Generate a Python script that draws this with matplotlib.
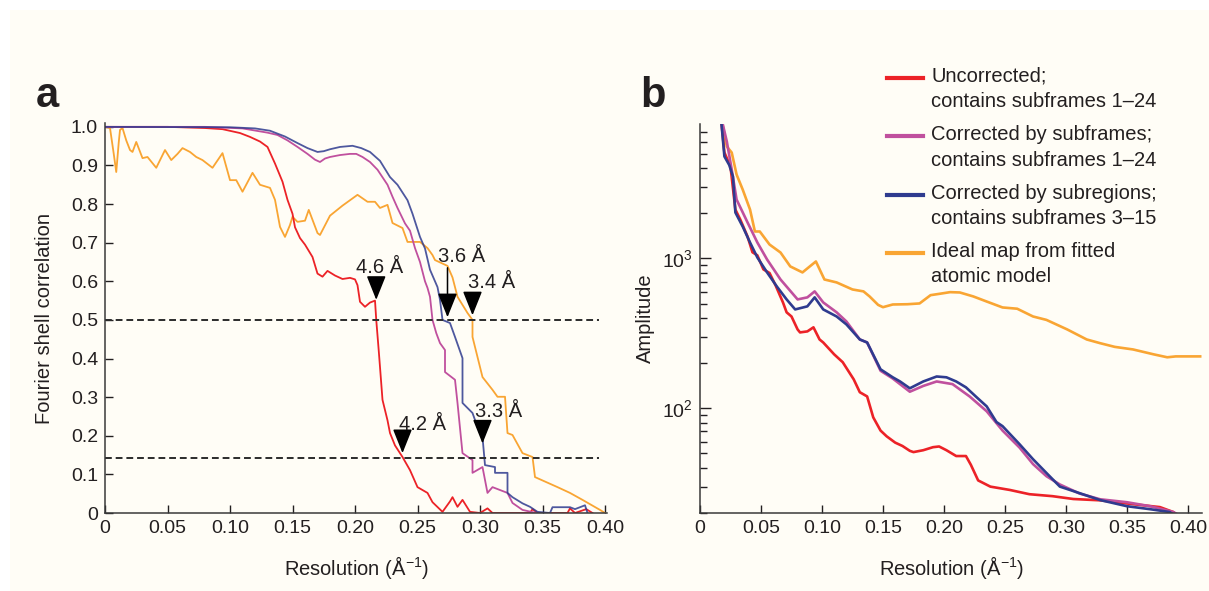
import matplotlib
matplotlib.use('Agg')
import matplotlib.pyplot as plt
from matplotlib.lines import Line2D
from matplotlib.patches import Rectangle

# ---- panel a: Fourier shell correlation ----
red_a_x = [0.000, 0.050, 0.080, 0.094, 0.108, 0.116, 0.124, 0.130, 0.136, 0.142, 0.146, 0.150,
           0.152, 0.156, 0.160, 0.166, 0.170, 0.174, 0.178, 0.184, 0.190, 0.196, 0.200, 0.202,
           0.204, 0.208, 0.212, 0.216, 0.217, 0.219, 0.220, 0.222, 0.226, 0.228, 0.232, 0.238,
           0.244, 0.250, 0.258, 0.262, 0.270, 0.276, 0.278, 0.282, 0.286, 0.292, 0.300, 0.306,
           0.310, 0.340, 0.342, 0.346, 0.370, 0.372, 0.376, 0.385, 0.390]
red_a_y = [1.000, 1.000, 0.997, 0.994, 0.984, 0.974, 0.962, 0.948, 0.905, 0.858, 0.811, 0.775,
           0.740, 0.712, 0.695, 0.663, 0.620, 0.612, 0.627, 0.615, 0.606, 0.609, 0.605, 0.590,
           0.547, 0.534, 0.545, 0.550, 0.500, 0.420, 0.378, 0.293, 0.240, 0.207, 0.175, 0.145,
           0.111, 0.067, 0.052, 0.028, 0.003, 0.030, 0.041, 0.016, 0.034, 0.003, 0.000, 0.012,
           0.000, 0.000, 0.010, 0.000, 0.000, 0.012, 0.000, 0.010, 0.000]

mag_a_x = [0.000, 0.080, 0.110, 0.130, 0.138, 0.146, 0.154, 0.162, 0.168, 0.172, 0.176, 0.180,
           0.188, 0.196, 0.201, 0.206, 0.212, 0.218, 0.226, 0.230, 0.234, 0.240, 0.244, 0.248,
           0.252, 0.256, 0.258, 0.260, 0.262, 0.265, 0.268, 0.272, 0.272, 0.280, 0.282, 0.284,
           0.286, 0.294, 0.294, 0.302, 0.306, 0.310, 0.322, 0.326, 0.334, 0.345]
mag_a_y = [1.000, 1.000, 0.996, 0.985, 0.979, 0.965, 0.948, 0.930, 0.915, 0.909, 0.918, 0.922,
           0.927, 0.930, 0.930, 0.922, 0.909, 0.889, 0.850, 0.819, 0.790, 0.750, 0.731, 0.686,
           0.650, 0.600, 0.583, 0.560, 0.500, 0.466, 0.440, 0.422, 0.365, 0.345, 0.285, 0.220,
           0.155, 0.137, 0.104, 0.119, 0.052, 0.067, 0.052, 0.026, 0.008, 0.000]

blue_a_x = [0.000, 0.100, 0.120, 0.132, 0.144, 0.154, 0.162, 0.170, 0.175, 0.180, 0.188, 0.198,
            0.205, 0.212, 0.220, 0.228, 0.234, 0.242, 0.246, 0.252, 0.256, 0.260, 0.266, 0.268,
            0.270, 0.276, 0.280, 0.286, 0.286, 0.294, 0.298, 0.302, 0.304, 0.312, 0.312, 0.322,
            0.322, 0.326, 0.334, 0.340, 0.346, 0.356, 0.358, 0.372, 0.376, 0.384, 0.386]
blue_a_y = [1.000, 0.999, 0.996, 0.990, 0.975, 0.958, 0.945, 0.935, 0.937, 0.942, 0.948, 0.951,
            0.945, 0.935, 0.912, 0.870, 0.850, 0.810, 0.775, 0.715, 0.685, 0.630, 0.585, 0.552,
            0.500, 0.492, 0.456, 0.401, 0.285, 0.259, 0.223, 0.197, 0.124, 0.119, 0.104, 0.104,
            0.052, 0.041, 0.025, 0.016, 0.003, 0.000, 0.015, 0.015, 0.010, 0.020, 0.000]

org_a_x = [0.000, 0.004, 0.007, 0.009, 0.011, 0.012, 0.014, 0.017, 0.020, 0.022, 0.025, 0.030,
           0.034, 0.041, 0.048, 0.053, 0.058, 0.062, 0.068, 0.073, 0.078, 0.086, 0.094, 0.100,
           0.105, 0.110, 0.118, 0.124, 0.132, 0.136, 0.140, 0.144, 0.148, 0.150, 0.154, 0.160,
           0.163, 0.170, 0.172, 0.180, 0.190, 0.202, 0.210, 0.216, 0.220, 0.226, 0.230, 0.238,
           0.242, 0.252, 0.258, 0.262, 0.264, 0.274, 0.278, 0.282, 0.290, 0.294, 0.294, 0.302,
           0.310, 0.314, 0.320, 0.322, 0.326, 0.334, 0.342, 0.344, 0.362, 0.372, 0.382, 0.396,
           0.400]
org_a_y = [1.000, 0.997, 0.930, 0.883, 0.960, 0.992, 0.997, 0.965, 0.940, 0.935, 0.961, 0.919,
           0.922, 0.894, 0.940, 0.914, 0.930, 0.945, 0.935, 0.922, 0.914, 0.894, 0.932, 0.862,
           0.862, 0.832, 0.881, 0.850, 0.842, 0.811, 0.741, 0.715, 0.746, 0.767, 0.754, 0.757,
           0.785, 0.725, 0.720, 0.770, 0.796, 0.824, 0.806, 0.806, 0.790, 0.798, 0.751, 0.738,
           0.702, 0.702, 0.686, 0.668, 0.655, 0.640, 0.610, 0.560, 0.518, 0.500, 0.456, 0.352,
           0.319, 0.301, 0.301, 0.207, 0.202, 0.155, 0.145, 0.093, 0.067, 0.052, 0.034, 0.008,
           0.000]

thresholds = [0.5, 0.143]
arrow_labels = ['4.6 Å', '3.6 Å', '3.4 Å', '4.2 Å', '3.3 Å']
arrow_x = [0.217, 0.274, 0.294, 0.238, 0.302]
arrow_tip = [0.552, 0.507, 0.512, 0.155, 0.180]
arrow_tail = [0.605, 0.635, 0.565, 0.208, 0.233]
label_x = [0.220, 0.285, 0.309, 0.254, 0.315]
label_y = [0.637, 0.663, 0.596, 0.228, 0.262]

# ---- panel b: amplitude ----
red_b_x = [0.017, 0.020, 0.025, 0.029, 0.033, 0.039, 0.043, 0.047, 0.052, 0.057, 0.062, 0.068,
           0.071, 0.075, 0.080, 0.082, 0.088, 0.093, 0.098, 0.101, 0.110, 0.117, 0.126, 0.131,
           0.137, 0.142, 0.148, 0.153, 0.160, 0.166, 0.172, 0.175, 0.183, 0.191, 0.196, 0.202,
           0.210, 0.218, 0.222, 0.228, 0.238, 0.254, 0.270, 0.289, 0.306, 0.328, 0.355, 0.377,
           0.388, 0.390]
red_b_y = [9000, 5100, 4100, 2120, 1820, 1400, 1100, 1050, 845, 800, 660, 509,
           437, 410, 336, 321, 326, 347, 288, 275, 229, 203, 156, 128,
           120, 87, 71, 65, 59, 56, 52, 51, 52.5, 55, 55.6, 52.5,
           48, 48, 42, 33, 30, 28.5, 26.7, 25.9, 24.8, 24.3, 22.9, 21.9,
           20.3, 19.5]

mag_b_x = [0.017, 0.022, 0.026, 0.030, 0.039, 0.047, 0.055, 0.066, 0.080, 0.088, 0.094, 0.101,
           0.112, 0.120, 0.131, 0.137, 0.148, 0.158, 0.172, 0.183, 0.194, 0.207, 0.221, 0.235,
           0.248, 0.262, 0.273, 0.284, 0.295, 0.311, 0.328, 0.350, 0.369, 0.388, 0.392]
mag_b_y = [9000, 6026, 3917, 2472, 1738, 1279, 984, 724, 533, 550, 603, 509,
           437, 380, 288, 275, 178, 158, 129, 141, 151, 145, 120, 95.5,
           71, 54.6, 42.4, 35.2, 31, 27, 24.7, 23.6, 22.2, 20.3, 19.5]

blue_b_x = [0.017, 0.020, 0.024, 0.027, 0.029, 0.035, 0.041, 0.047, 0.055, 0.063, 0.071, 0.078,
            0.088, 0.094, 0.101, 0.112, 0.120, 0.131, 0.137, 0.148, 0.158, 0.164, 0.172, 0.183,
            0.194, 0.202, 0.210, 0.218, 0.227, 0.235, 0.243, 0.248, 0.262, 0.273, 0.284, 0.295,
            0.309, 0.328, 0.350, 0.369, 0.385, 0.388]
blue_b_y = [9000, 4800, 4200, 3524, 2028, 1633, 1279, 1016, 807, 650, 533, 457,
            479, 550, 457, 410, 363, 288, 275, 182, 161, 151, 136, 151,
            163, 161, 151, 138, 118, 103, 81, 76, 57.5, 45.7, 37, 30,
            27.5, 24.4, 22.2, 21.2, 20.3, 19.5]

org_b_x = [0.017, 0.022, 0.026, 0.030, 0.035, 0.041, 0.045, 0.049, 0.057, 0.066, 0.074, 0.084,
           0.090, 0.095, 0.102, 0.112, 0.125, 0.134, 0.139, 0.146, 0.150, 0.158, 0.170, 0.180,
           0.189, 0.197, 0.205, 0.213, 0.224, 0.235, 0.248, 0.260, 0.273, 0.284, 0.301, 0.317,
           0.328, 0.340, 0.355, 0.372, 0.383, 0.390, 0.410]
org_b_y = [9000, 5585, 5093, 3631, 2884, 2123, 1514, 1514, 1239, 1096, 885, 807,
           885, 955, 724, 692, 621, 603, 558, 490, 473, 493, 495, 501,
           569, 582, 596, 593, 558, 516, 471, 462, 410, 389, 336, 288,
           272, 257, 247, 229, 219, 222, 222]

legend_labels = ['Uncorrected;\ncontains subframes 1–24',
                 'Corrected by subframes;\ncontains subframes 1–24',
                 'Corrected by subregions;\ncontains subframes 3–15',
                 'Ideal map from fitted\natomic model']

RED = '#ec2227'
MAG = '#c0509e'
BLUE = '#2f3b8f'
ORANGE = '#f9a533'
INK = '#231f20'
CREAM = '#fffdf6'
FS = 14.5


def main() -> int:
    plt.rcParams['font.family'] = ['Liberation Sans', 'DejaVu Sans']
    plt.rcParams['mathtext.fontset'] = 'custom'
    plt.rcParams['mathtext.rm'] = 'Liberation Sans'
    plt.rcParams['mathtext.it'] = 'Liberation Sans'
    plt.rcParams['mathtext.default'] = 'regular'
    plt.rcParams['text.color'] = INK
    plt.rcParams['axes.labelcolor'] = INK
    plt.rcParams['xtick.color'] = INK
    plt.rcParams['ytick.color'] = INK

    W, H = 1209, 591
    fig = plt.figure(figsize=(W / 100, H / 100), dpi=100, facecolor='white')
    fig.patches.append(Rectangle((10 / W, 0), 1, 1 - 10 / H, transform=fig.transFigure,
                                 facecolor=CREAM, edgecolor='none', zorder=-10))

    ax1 = fig.add_axes([105 / W, 1 - 513 / H, 502 / W, 390 / H])
    ax2 = fig.add_axes([700 / W, 1 - 513 / H, 502 / W, 389 / H])

    for ax in (ax1, ax2):
        ax.set_facecolor('none')
        ax.spines['top'].set_visible(False)
        ax.spines['right'].set_visible(False)
        ax.spines['left'].set_color('#3a3a3a')
        ax.spines['bottom'].set_color('#3a3a3a')
        ax.spines['left'].set_linewidth(1.1)
        ax.spines['bottom'].set_linewidth(1.1)
        ax.tick_params(direction='in', length=6, width=1, labelsize=FS - 0.5, pad=5)

    # panel a
    ax1.plot(org_a_x, org_a_y, color=ORANGE, lw=1.3)
    ax1.plot(red_a_x, red_a_y, color=RED, lw=1.3)
    ax1.plot(mag_a_x, mag_a_y, color=MAG, lw=1.3)
    ax1.plot(blue_a_x, blue_a_y, color=BLUE, lw=1.3, alpha=0.85)
    for t in thresholds:
        ax1.plot([0, 0.395], [t, t], color='#2b2b2b', lw=1.4, ls=(0, (3.5, 2)))
    for lab, x, tip, tail, lx, ly in zip(arrow_labels, arrow_x, arrow_tip, arrow_tail, label_x, label_y):
        ax1.annotate('', xy=(x, tip), xytext=(x, tail),
                     arrowprops=dict(arrowstyle='-|>,head_length=0.75,head_width=0.3',
                                     color='black', lw=1.1, mutation_scale=20,
                                     shrinkA=0, shrinkB=0))
        ax1.text(lx, ly, lab, ha='center', va='center', fontsize=FS)
    ax1.set_xlim(0, 0.4016)
    ax1.set_ylim(0, 1.01)
    ax1.set_xticks([0, 0.05, 0.10, 0.15, 0.20, 0.25, 0.30, 0.35, 0.40])
    ax1.set_xticklabels(['0', '0.05', '0.10', '0.15', '0.20', '0.25', '0.30', '0.35', '0.40'])
    ax1.set_yticks([i / 10 for i in range(11)])
    ax1.set_yticklabels(['0'] + ['%.1f' % (i / 10) for i in range(1, 11)])
    ax1.set_xlabel('Resolution (Å$^{-1}$)', fontsize=FS)
    ax1.set_ylabel('Fourier shell correlation', fontsize=FS)
    ax1.xaxis.set_label_coords(0.5, -0.105)
    ax1.yaxis.set_label_coords(-0.102, 0.5)

    # panel b
    ax2.plot(org_b_x, org_b_y, color=ORANGE, lw=1.9)
    ax2.plot(red_b_x, red_b_y, color=RED, lw=1.9)
    ax2.plot(mag_b_x, mag_b_y, color=MAG, lw=1.9)
    ax2.plot(blue_b_x, blue_b_y, color=BLUE, lw=1.9)
    ax2.set_yscale('log')
    ax2.set_xlim(0, 0.4115)
    ax2.set_ylim(20, 7900)
    ax2.set_xticks([0, 0.05, 0.10, 0.15, 0.20, 0.25, 0.30, 0.35, 0.40])
    ax2.set_xticklabels(['0', '0.05', '0.10', '0.15', '0.20', '0.25', '0.30', '0.35', '0.40'])
    ax2.tick_params(axis='y', which='major', length=8)
    ax2.tick_params(axis='y', which='minor', direction='in', length=5, width=1, color=INK)
    ax2.set_xlabel('Resolution (Å$^{-1}$)', fontsize=FS)
    ax2.set_ylabel('Amplitude', fontsize=FS)
    ax2.xaxis.set_label_coords(0.5, -0.105)
    ax2.yaxis.set_label_coords(-0.09, 0.5)

    # legend, drawn by hand so the line sits on the first text line
    colors = [RED, MAG, BLUE, ORANGE]
    for i, (lab, c) in enumerate(zip(legend_labels, colors)):
        yl = 1 - (78 + 58.3 * i) / H
        fig.add_artist(Line2D([887 / W, 923 / W], [yl, yl], transform=fig.transFigure,
                              color=c, lw=3))
        fig.text(931 / W, yl + 11 / H, lab, ha='left', va='top', fontsize=FS, linespacing=1.42)

    fig.text(36 / W, 1 - 107 / H, 'a', fontsize=30, fontweight='bold', va='baseline')
    fig.text(640 / W, 1 - 107 / H, 'b', fontsize=30, fontweight='bold', va='baseline')

    fig.savefig('out.png', dpi=100, facecolor=fig.get_facecolor())
    return 0


if __name__ == '__main__':
    main()
